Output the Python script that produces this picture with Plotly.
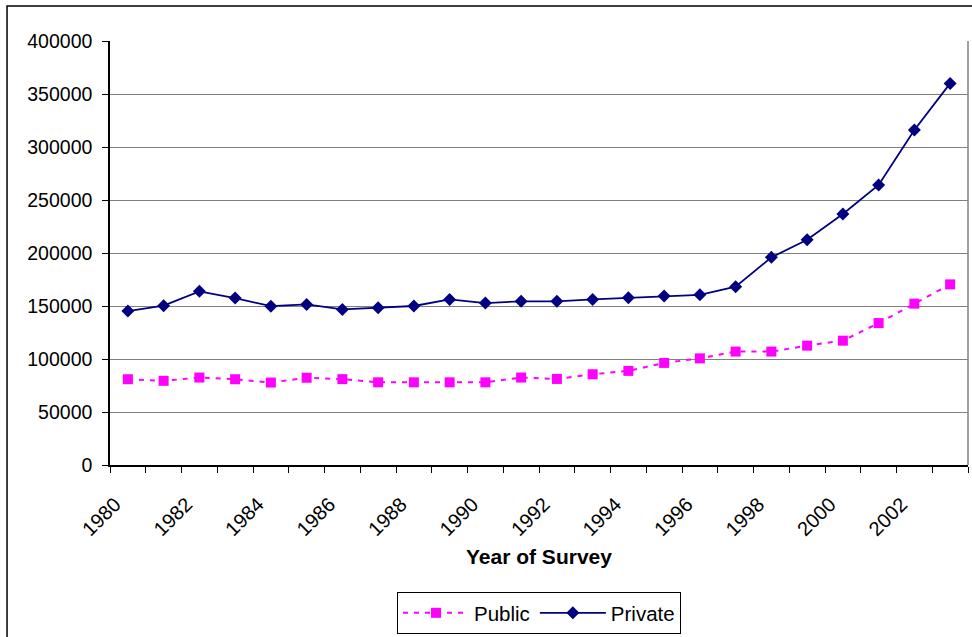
import plotly.graph_objects as go

years = list(range(1980, 2004))
public = [80900, 79400, 82500, 80900, 77800, 82300, 81000, 78000, 78000, 78000,
          78000, 82500, 81200, 85600, 88800, 96300, 100600, 107000, 107000, 112600,
          117300, 133900, 152200, 170400]
private = [145200, 150300, 163800, 157500, 149800, 151500, 146800, 148400, 150000, 156200,
           152800, 154400, 154400, 156200, 157800, 159400, 160500, 168200, 195900, 212500,
           236800, 264200, 316000, 360000]
label_years = list(range(1980, 2003, 2))
y_ticks = list(range(0, 400001, 50000))

FONT = "Liberation Sans, Arial, sans-serif"

fig = go.Figure()
fig.add_trace(go.Scatter(
    x=years, y=public, name="Public", mode="lines+markers",
    line=dict(color="#FF00FF", width=2, dash="5px,6px"),
    marker=dict(symbol="square", size=10, color="#FF00FF"),
))
fig.add_trace(go.Scatter(
    x=years, y=private, name="Private", mode="lines+markers",
    line=dict(color="#000080", width=1.8),
    marker=dict(symbol="diamond", size=10, color="#000080"),
))

fig.update_layout(
    width=972, height=637,
    margin=dict(l=110, r=4, t=41, b=172),
    paper_bgcolor="white", plot_bgcolor="white",
    font=dict(family=FONT, size=19, color="black"),
    showlegend=True,
    legend=dict(
        orientation="h", x=0.5, xanchor="center",
        yref="container", y=1 - 592 / 637, yanchor="top",
        bordercolor="black", borderwidth=1, font=dict(size=20.5),
        itemwidth=66, tracegroupgap=0,
    ),
    xaxis=dict(
        range=[1979.5, 2003.5], showgrid=False, zeroline=False,
        showline=True, linecolor="black", linewidth=1.5, automargin=False,
        tickmode="array", tickvals=[y - 0.36 for y in label_years],
        ticktext=[str(y) for y in label_years], tickangle=-45, ticks="",
        ticklabelstandoff=18,
        tickfont=dict(size=20),
        minor=dict(ticks="outside", tick0=1979.5, dtick=1, ticklen=6,
                   tickcolor="black", tickwidth=1, showgrid=False),
    ),
    yaxis=dict(
        range=[0, 400000], tickmode="array", tickvals=y_ticks,
        tickformat="d", showgrid=True, gridcolor="#808080", gridwidth=1.2,
        zeroline=False, showline=True, linecolor="black", linewidth=1.5,
        ticks="outside", ticklen=6, tickcolor="black", automargin=False,
        ticklabelstandoff=6,
        tickfont=dict(size=19.5),
    ),
    annotations=[dict(
        text="<b>Year of Survey</b>", xref="paper", yref="paper",
        x=0.5, y=-0.2165, xanchor="center", yanchor="middle",
        showarrow=False, font=dict(size=21, family=FONT),
    )],
    shapes=[
        dict(type="line", xref="paper", yref="paper", x0=1, x1=1, y0=0, y1=1,
             line=dict(color="#808080", width=1.5)),
        dict(type="rect", xref="paper", yref="paper",
             x0=-0.1200, x1=1.01, y0=-0.42, y1=1.0825,
             line=dict(color="black", width=1.5)),
    ],
)

fig.write_html("out.html")
